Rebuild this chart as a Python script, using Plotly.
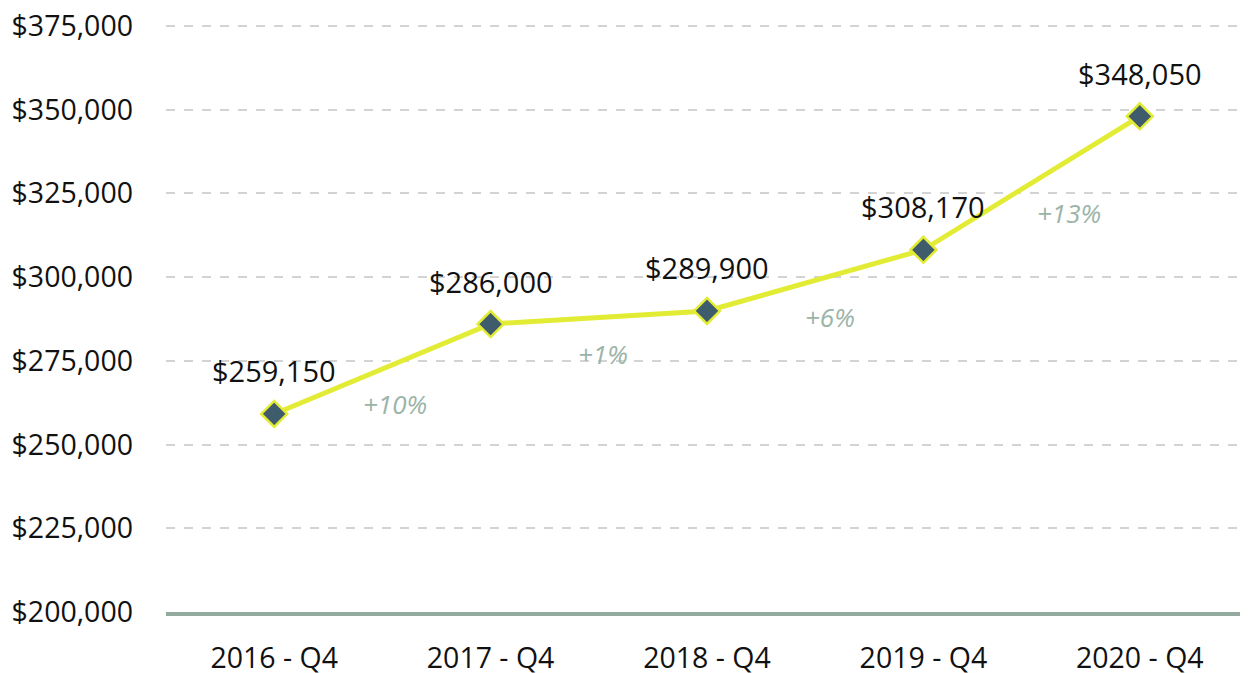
import plotly.graph_objects as go

categories = ["2016 - Q4", "2017 - Q4", "2018 - Q4", "2019 - Q4", "2020 - Q4"]
values = [259150, 286000, 289900, 308170, 348050]
tick_vals = [200000, 225000, 250000, 275000, 300000, 325000, 350000, 375000]
tick_text = ["${:,}".format(v) for v in tick_vals]
# pixel offsets of the growth labels relative to segment midpoints
pct_xshift = [13, 4, 15, 37]
pct_yshift = [-35, -36, -37, -30]

FONT = "Open Sans"
LINE = "#e3ec34"
MARK = "#3f5c6c"

fig = go.Figure()
fig.add_trace(go.Scatter(
    x=list(range(len(categories))), y=values, mode="lines+markers",
    line=dict(color=LINE, width=5),
    marker=dict(symbol="diamond", size=20, color=MARK, line=dict(color=LINE, width=2.5)),
    cliponaxis=False, showlegend=False, hoverinfo="skip",
))

annotations = []
for i, v in enumerate(values):
    annotations.append(dict(x=i, y=v, text="${:,}".format(v), showarrow=False,
                            yshift=43, font=dict(family=FONT, size=29, color="#111"),
                            xanchor="center", yanchor="middle"))
for i in range(len(values) - 1):
    pct = round((values[i + 1] / values[i] - 1) * 100)
    annotations.append(dict(x=i + 0.5, y=(values[i] + values[i + 1]) / 2,
                            text="<i>+{}%</i>".format(pct), showarrow=False,
                            xshift=pct_xshift[i], yshift=pct_yshift[i],
                            font=dict(family=FONT, size=26, color="#9cb4a7"),
                            xanchor="center", yanchor="middle"))

# the page body has an 8px default margin; size the figure to fit the window
fig.update_layout(
    width=1240, height=665,
    margin=dict(l=158, r=0, t=15, b=61),
    paper_bgcolor="white", plot_bgcolor="white",
    font=dict(family=FONT, size=29, color="#111"),
    annotations=annotations,
    xaxis=dict(
        tickmode="array", tickvals=list(range(len(categories))), ticktext=categories,
        range=[-0.5, 4.5], showgrid=False, zeroline=False, automargin=False,
        showline=True, linecolor="#95aa9e", linewidth=4, ticklabeloverflow="allow",
        ticks="", ticklabelstandoff=18, tickfont=dict(size=28.5, color="#111"),
    ),
    yaxis=dict(
        range=[200000, 375900], tickvals=tick_vals, ticktext=tick_text,
        showgrid=True, gridcolor="#d3d3d3", griddash="dash", gridwidth=1.5,
        zeroline=False, showline=False, ticks="", ticklabelstandoff=32, automargin=False,
        ticklabeloverflow="allow",
        tickfont=dict(size=28.5, color="#111"),
    ),
)

fig.write_html("out.html")
